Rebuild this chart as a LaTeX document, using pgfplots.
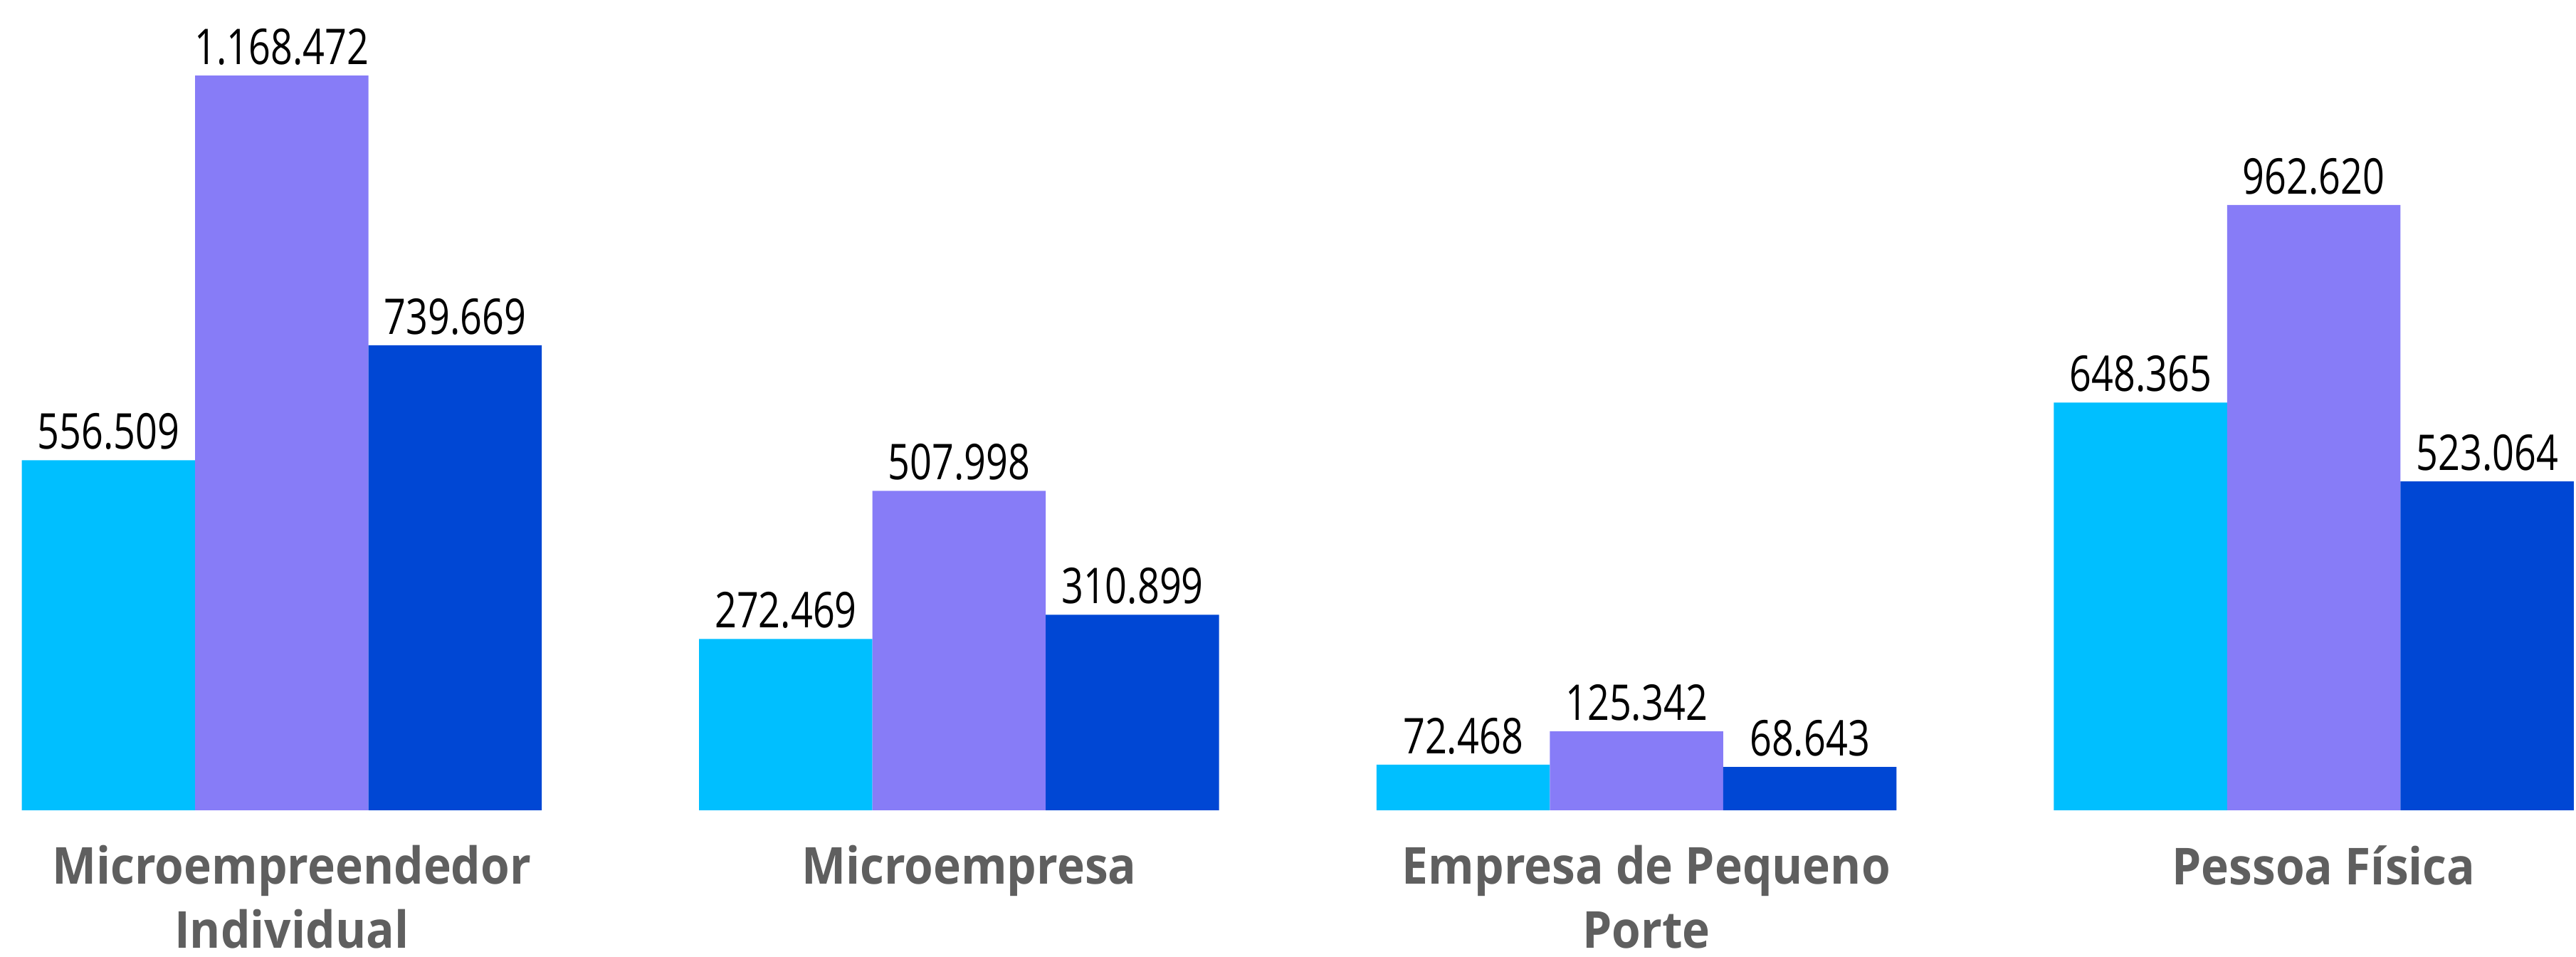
\documentclass[border=0pt]{standalone}
\usepackage{pgfplots}
\pgfplotsset{compat=1.18}
\usepackage{fontspec}
\setmainfont{Open Sans}
\newfontfamily\numfont{Open Sans}[FakeStretch=0.78]
\newfontfamily\catfont{Open Sans}[FakeStretch=0.92]
\definecolor{cA}{HTML}{00BFFF}
\definecolor{cB}{HTML}{877CF7}
\definecolor{cC}{HTML}{0047D4}
\definecolor{lbl}{HTML}{5F5F5F}
\begin{document}
\begin{tikzpicture}
\useasboundingbox (0,0) rectangle (784pt,291pt);
\begin{axis}[
  at={(0pt,44.5pt)}, anchor=south west,
  scale only axis, width=784pt, height=246.5pt,
  xmin=-0.4160, xmax=3.3871, ymin=0, ymax=1288713,
  ybar=0pt, bar width=52.75pt,
  axis line style={draw=none}, tick style={draw=none},
  ytick=\empty,
  xtick={0,1,2,3},
  xticklabels={{Microempreendedor\\Individual},{Microempresa},{Empresa de Pequeno\\Porte},{Pessoa Física}},
  xticklabel style={align=center, anchor=north, inner sep=0pt, yshift=-6.3pt, xshift=3pt,
    font=\catfont\fontsize{15.5}{19.3}\selectfont\bfseries, text=lbl},
  point meta=explicit symbolic,
  nodes near coords,
  every node near coord/.append style={font=\numfont\fontsize{15}{17}\selectfont, text=black, inner sep=0pt, anchor=south, yshift=3pt},
  clip=false,
]
\addplot[fill=cA, draw=none] coordinates {(0,556509) [556.509] (1,272469) [272.469] (2,72468) [72.468] (3,648365) [648.365]};
\addplot[fill=cB, draw=none] coordinates {(0,1168472) [1.168.472] (1,507998) [507.998] (2,125342) [125.342] (3,962620) [962.620]};
\addplot[fill=cC, draw=none] coordinates {(0,739669) [739.669] (1,310899) [310.899] (2,68643) [68.643] (3,523064) [523.064]};
\end{axis}
\end{tikzpicture}
\end{document}
